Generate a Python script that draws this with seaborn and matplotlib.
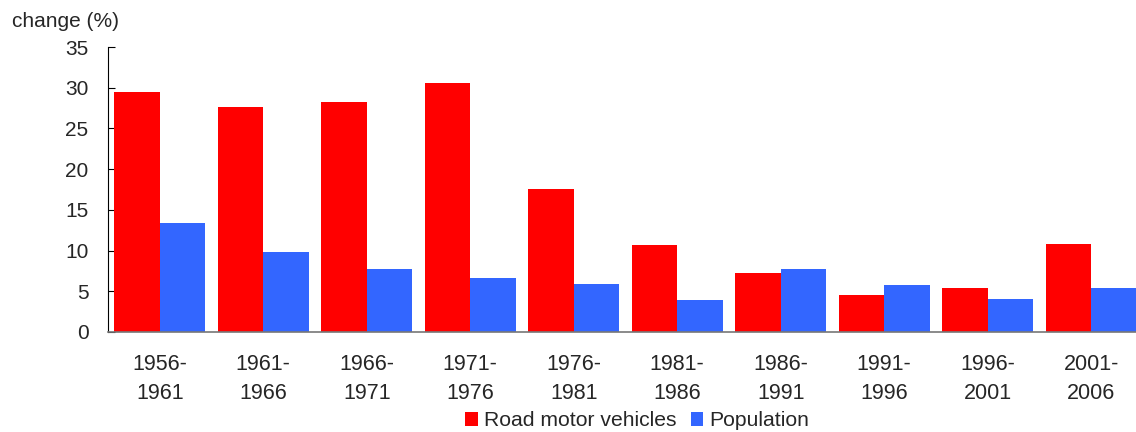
import pandas as pd
import matplotlib.pyplot as plt
import seaborn as sns

periods = ['1956-\n1961', '1961-\n1966', '1966-\n1971', '1971-\n1976', '1976-\n1981',
           '1981-\n1986', '1986-\n1991', '1991-\n1996', '1996-\n2001', '2001-\n2006']
vehicles = [29.5, 27.6, 28.3, 30.6, 17.5, 10.7, 7.2, 4.5, 5.4, 10.8]
population = [13.4, 9.8, 7.7, 6.6, 5.9, 3.9, 7.7, 5.8, 4.0, 5.4]

df = pd.DataFrame({
    'period': periods * 2,
    'change': vehicles + population,
    'series': ['Road motor vehicles'] * len(periods) + ['Population'] * len(periods),
})

sns.set_style('white')
plt.rcParams['font.family'] = ['Liberation Sans', 'DejaVu Sans']

fig = plt.figure(figsize=(11.36, 4.32), dpi=100)
ax = fig.add_axes([0.0951, 0.2315, 0.911, 0.6597])

sns.barplot(data=df, x='period', y='change', hue='series',
            palette=['#ff0000', '#3366ff'], width=0.88, saturation=1,
            linewidth=0, ax=ax, legend=True)

ax.set_xlim(-0.5, 9.5)
ax.set_ylim(0, 35)
ax.set_yticks(range(0, 36, 5))
ax.set_xlabel('')
ax.set_ylabel('')

# spines
ax.spines['top'].set_visible(False)
ax.spines['right'].set_visible(False)
ax.spines['left'].set_color('black')
ax.spines['bottom'].set_color('#777777')
ax.spines['bottom'].set_linewidth(1.2)

# ticks: labels centred, tick marks at category boundaries
ax.tick_params(axis='x', which='major', length=0, pad=16, labelsize=15.5)
ax.set_xticks([i + 0.5 for i in range(-1, 10)], minor=True)
ax.tick_params(axis='x', which='minor', direction='in', length=5, color='black')
ax.tick_params(axis='y', direction='in', length=5, left=True, pad=14, labelsize=15, color='black')
for lbl in ax.get_xticklabels():
    lbl.set_linespacing(1.47)

fig.text(0.011, 0.951, 'change (%)', fontsize=15, ha='left', va='center')

ax.legend(loc='center', bbox_to_anchor=(0.561, 0.0255), bbox_transform=fig.transFigure,
          ncol=2, frameon=False, fontsize=15.2, handlelength=0.61, handleheight=0.61,
          handletextpad=0.28, columnspacing=0.66, borderpad=0)

fig.savefig('out.png', dpi=100)
